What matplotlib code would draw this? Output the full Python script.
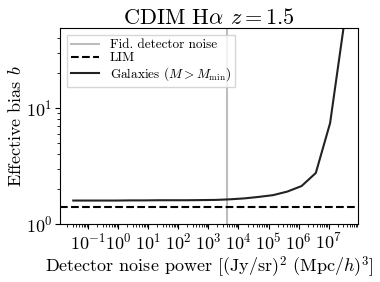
import numpy as np
import matplotlib
matplotlib.use("Agg")
import matplotlib.pyplot as plt
from matplotlib.ticker import LogLocator

plt.rcParams['font.family'] = 'serif'
plt.rcParams['font.serif'] = ['cmr10']
plt.rcParams['mathtext.fontset'] = 'cm'
plt.rcParams['axes.formatter.use_mathtext'] = True

# data
noise_power = np.logspace(-1.5, 8, 21)
bias_gal = [1.59, 1.59, 1.59, 1.59, 1.595, 1.595, 1.60, 1.60, 1.60, 1.605,
            1.61, 1.63, 1.66, 1.71, 1.77, 1.90, 2.12, 2.75, 7.4, 55.0, 400.0]
bias_lim = 1.41
fid_noise = 4e3

fig = plt.figure(figsize=(3.8, 2.82), dpi=100)
ax = fig.add_axes([0.158, 0.206, 0.784, 0.695])

ax.axvline(fid_noise, color='#bdbdbd', lw=1.5, label='Fid. detector noise')
ax.axhline(bias_lim, color='black', ls='--', lw=1.5, label='LIM')
ax.plot(noise_power, bias_gal, color='#222222', lw=1.5,
        label=r'Galaxies ($M>M_{\rm min}$)')

ax.set_xscale('log')
ax.set_yscale('log')
ax.set_xlim(0.0115, 9.5e7)
ax.set_ylim(1, 49)
ax.xaxis.set_major_locator(LogLocator(base=10, numticks=30))
ax.xaxis.set_minor_locator(LogLocator(base=10, subs=np.arange(2, 10), numticks=30))

ax.tick_params(labelsize=13, pad=2)
ax.set_xlabel(r'Detector noise power [(Jy/sr)$^2$ (Mpc/$h$)$^3$]', fontsize=13, labelpad=2)
ax.set_ylabel(r'Effective bias $b$', fontsize=13, labelpad=1)
ax.set_title(r'CDIM H$\alpha$ $z=$1.5', fontsize=16, pad=3)

leg = ax.legend(loc='upper left', fontsize=9.5, frameon=True, framealpha=0.8,
                edgecolor='#cccccc', fancybox=False, handlelength=2.1,
                borderpad=0.35, labelspacing=0.05, handletextpad=0.8)

fig.savefig('out.png', dpi=100)
